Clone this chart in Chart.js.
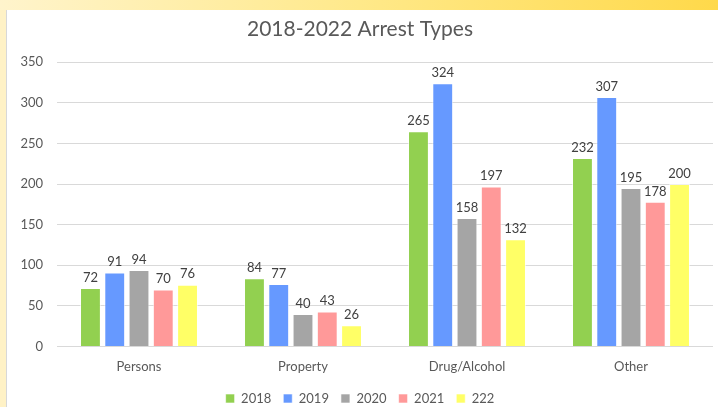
<!DOCTYPE html>
<html>
<head>
<meta charset="utf-8">
<script src="https://cdn.jsdelivr.net/npm/chart.js@4.4.1/dist/chart.umd.min.js"></script>
<style>
  html, body { margin: 0; padding: 0; background: #fff; overflow: hidden; width: 718px; height: 407px; }
  #topband { position: absolute; left: 0; top: 0; width: 718px; height: 10px;
    background: linear-gradient(to right, #fff4cc 0%, #ffe98a 50%, #ffd94a 100%); }
  #leftband { position: absolute; left: 0; top: 10px; width: 7px; height: 397px;
    background: #fff2c6; border-right: 1px solid #d8d8d8; box-sizing: border-box; }
  #wrap { position: absolute; left: 7px; top: 10px; width: 727px; height: 397px; }
</style>
</head>
<body>
<div id="topband"></div>
<div id="leftband"></div>
<div id="wrap"><canvas id="chart"></canvas></div>
<script>
// ── Data ──
const categories = ["Persons", "Property", "Drug/Alcohol", "Other"];
const seriesNames = ["2018", "2019", "2020", "2021", "222"];
const seriesColors = ["#92d050", "#6699ff", "#a5a5a5", "#ff9999", "#ffff66"];
const values2018 = [72, 84, 265, 232];
const values2019 = [91, 77, 324, 307];
const values2020 = [94, 40, 158, 195];
const values2021 = [70, 43, 197, 178];
const values2022 = [76, 26, 132, 200];
const yTicks = [0, 50, 100, 150, 200, 250, 300, 350];

const allValues = [values2018, values2019, values2020, values2021, values2022];
const FONT = "Lato, 'Open Sans', sans-serif";

// simple value labels above each bar
const barLabels = {
  id: "barLabels",
  afterDatasetsDraw(chart) {
    const ctx = chart.ctx;
    ctx.save();
    ctx.font = "13px " + FONT;
    ctx.fillStyle = "#404040";
    ctx.textAlign = "center";
    ctx.textBaseline = "bottom";
    chart.data.datasets.forEach((ds, i) => {
      chart.getDatasetMeta(i).data.forEach((bar, j) => {
        ctx.fillText(ds.data[j], bar.x, bar.y - 4);
      });
    });
    ctx.restore();
  }
};

new Chart(document.getElementById("chart"), {
  type: "bar",
  data: {
    labels: categories,
    datasets: seriesNames.map((name, i) => ({
      label: name,
      data: allValues[i],
      backgroundColor: seriesColors[i],
      borderColor: "rgba(255,255,255,0.6)",
      borderWidth: 1,
      categoryPercentage: 0.74,
      barPercentage: 0.86
    }))
  },
  options: {
    responsive: true,
    maintainAspectRatio: false,
    animation: false,
    layout: { padding: { left: 0, right: 21, top: 0, bottom: -8 } },
    plugins: {
      title: {
        display: true,
        text: "2018-2022 Arrest Types",
        color: "#595959",
        font: { family: FONT, size: 21, weight: "normal" },
        padding: { top: 7, bottom: 20 }
      },
      legend: {
        position: "bottom",
        labels: {
          color: "#595959",
          font: { family: FONT, size: 13 },
          boxWidth: 9,
          boxHeight: 9,
          padding: 12
        }
      },
      tooltip: { enabled: false }
    },
    scales: {
      x: {
        grid: { display: false },
        border: { display: false },
        ticks: { color: "#595959", font: { family: FONT, size: 13 }, padding: 5 }
      },
      y: {
        min: 0,
        max: 350,
        afterBuildTicks(axis) { axis.ticks = yTicks.map(v => ({ value: v })); },
        afterFit(axis) { axis.width = 50; },
        grid: { color: "#d9d9d9", drawTicks: false },
        border: { display: false },
        ticks: { color: "#595959", font: { family: FONT, size: 13 }, padding: 14 }
      }
    }
  },
  plugins: [barLabels]
});
</script>
</body>
</html>
